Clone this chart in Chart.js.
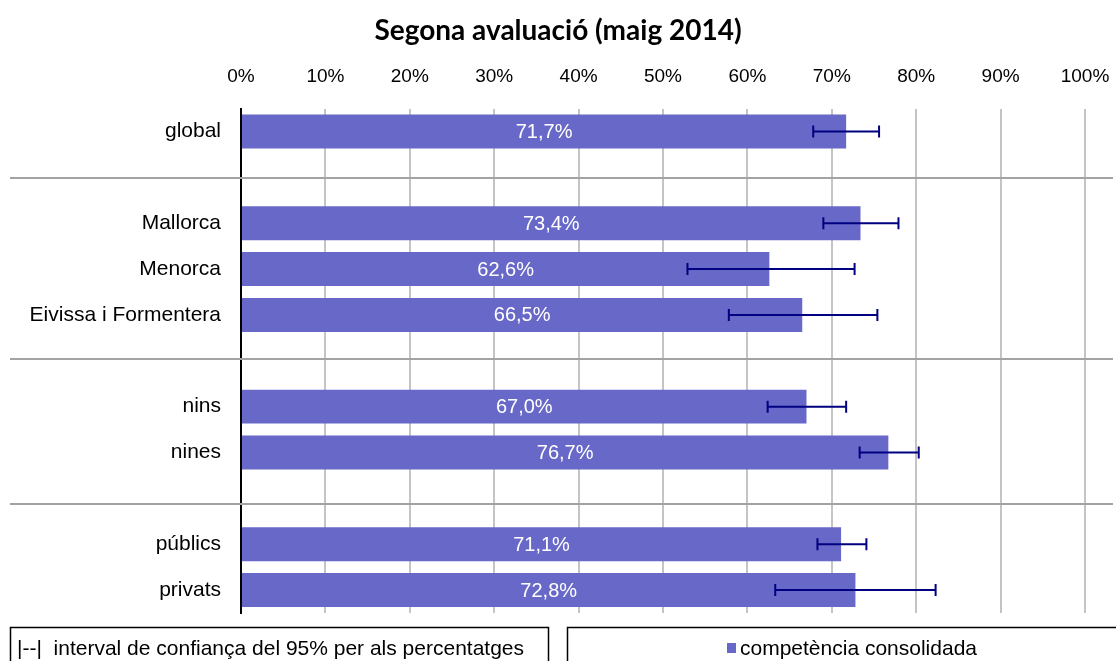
<!DOCTYPE html>
<html>
<head>
<meta charset="utf-8">
<script src="https://cdn.jsdelivr.net/npm/chart.js@4/dist/chart.umd.min.js"></script>
<style>
    body { margin: 0; background: #fff; }
    #wrap { width: 1116px; height: 661px; position: relative; }
</style>
</head>
<body>
<div id="wrap"><canvas id="chart" width="1116" height="661"></canvas></div>
<script>
// empty strings are the gaps between groups
const categories = ['global', '', 'Mallorca', 'Menorca', 'Eivissa i Formentera', '', 'nins', 'nines', '', 'públics', 'privats'];
const values   = [71.7, null, 73.4, 62.6, 66.5, null, 67.0, 76.7, null, 71.1, 72.8];
const ciLow    = [67.8, null, 69.0, 52.9, 57.8, null, 62.4, 73.3, null, 68.3, 63.3];
const ciHigh   = [75.6, null, 77.9, 72.7, 75.4, null, 71.7, 80.3, null, 74.1, 82.3];
const xTicks = [0, 10, 20, 30, 40, 50, 60, 70, 80, 90, 100];
// separator lines sit in the empty slots (category index)
const separators = [1.02, 4.97, 8.13];

const BAR_COLOR = '#6868c8';
const CI_COLOR = '#000080';
const FONT = '"Liberation Sans", Arial, sans-serif';

const separatorPlugin = {
    id: 'separators',
    beforeDatasetsDraw(chart) {
        const ctx = chart.ctx;
        const y = chart.scales.y;
        ctx.save();
        ctx.strokeStyle = '#a3a3a3';
        ctx.lineWidth = 2;
        separators.forEach(s => {
            const py = Math.round(y.getPixelForValue(s));
            ctx.beginPath();
            ctx.moveTo(10, py);
            ctx.lineTo(1113, py);
            ctx.stroke();
        });
        ctx.restore();
    }
};

const barExtras = {
    id: 'barExtras',
    afterDatasetsDraw(chart) {
        const ctx = chart.ctx;
        const x = chart.scales.x;
        const meta = chart.getDatasetMeta(0);
        ctx.save();
        // value labels
        ctx.fillStyle = '#fff';
        ctx.font = '20px ' + FONT;
        ctx.textAlign = 'center';
        ctx.textBaseline = 'middle';
        meta.data.forEach((bar, i) => {
            if (values[i] == null) return;
            const cx = (bar.base + bar.x) / 2;
            ctx.fillText(values[i].toFixed(1).replace('.', ',') + '%', cx, bar.y + 1);
        });
        // confidence intervals
        ctx.strokeStyle = CI_COLOR;
        ctx.lineWidth = 2;
        meta.data.forEach((bar, i) => {
            if (ciLow[i] == null) return;
            const x1 = x.getPixelForValue(ciLow[i]);
            const x2 = x.getPixelForValue(ciHigh[i]);
            ctx.beginPath();
            ctx.moveTo(x1, bar.y);
            ctx.lineTo(x2, bar.y);
            ctx.moveTo(x1, bar.y - 6);
            ctx.lineTo(x1, bar.y + 6);
            ctx.moveTo(x2, bar.y - 6);
            ctx.lineTo(x2, bar.y + 6);
            ctx.stroke();
        });
        ctx.restore();
    }
};

const legendBoxes = {
    id: 'legendBoxes',
    afterDraw(chart) {
        const ctx = chart.ctx;
        ctx.save();
        ctx.strokeStyle = '#000';
        ctx.lineWidth = 1.5;
        ctx.strokeRect(10.5, 627.5, 538, 50);
        ctx.strokeRect(567.5, 627.5, 560, 50);
        ctx.fillStyle = '#000';
        ctx.font = '21px ' + FONT;
        ctx.textBaseline = 'middle';
        ctx.textAlign = 'left';
        ctx.fillText('|--|  interval de confiança del 95% per als percentatges', 17, 649);
        ctx.fillStyle = BAR_COLOR;
        ctx.fillRect(727, 643, 9, 10);
        ctx.fillStyle = '#000';
        ctx.fillText('competència consolidada', 740, 649);
        ctx.restore();
    }
};

new Chart(document.getElementById('chart'), {
    type: 'bar',
    data: {
        labels: categories,
        datasets: [{
            label: 'competència consolidada',
            data: values,
            backgroundColor: BAR_COLOR,
            borderWidth: 0,
            categoryPercentage: 1,
            barPercentage: 0.74
        }]
    },
    options: {
        indexAxis: 'y',
        responsive: false,
        animation: false,
        layout: {
            padding: { left: 0, right: 0, top: 0, bottom: 48 }
        },
        scales: {
            x: {
                position: 'top',
                min: 0,
                max: 100,
                afterBuildTicks: s => { s.ticks = xTicks.map(v => ({ value: v })); },
                afterFit: s => { s.height = 61; s.paddingLeft = 0; s.paddingRight = 31; },
                border: { display: false },
                grid: { color: '#c4c4c4', lineWidth: 2, drawTicks: false },
                ticks: {
                    padding: 20,
                    color: '#000',
                    font: { family: FONT, size: 19 },
                    callback: v => v + '%'
                }
            },
            y: {
                afterFit: s => { s.width = 241; },
                border: { display: true, color: '#000', width: 2 },
                grid: { display: false, drawTicks: false },
                ticks: {
                    padding: 20,
                    color: '#000',
                    autoSkip: false,
                    font: { family: FONT, size: 21 }
                }
            }
        },
        plugins: {
            legend: { display: false },
            tooltip: { enabled: false },
            title: {
                display: true,
                text: 'Segona avaluació (maig 2014)',
                color: '#000',
                font: { family: 'Lato, sans-serif', size: 28, weight: 'bold' },
                padding: { top: 14, bottom: 0 }
            }
        }
    },
    plugins: [separatorPlugin, barExtras, legendBoxes]
});
</script>
</body>
</html>
